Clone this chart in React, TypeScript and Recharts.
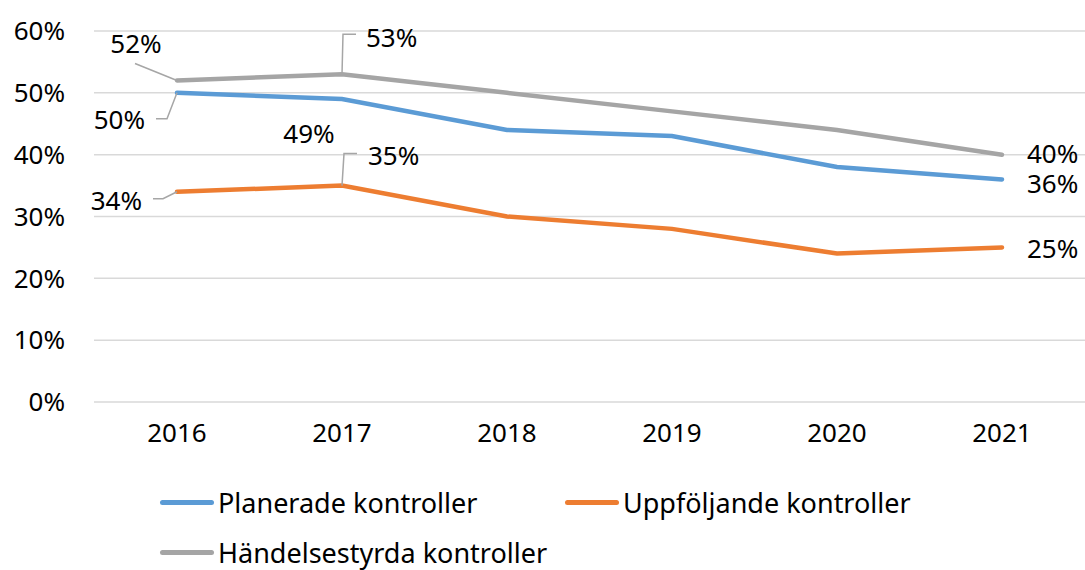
import { LineChart, Line, XAxis, YAxis, CartesianGrid, LabelList } from 'recharts';

const years = ['2016', '2017', '2018', '2019', '2020', '2021'];
const planerade = [50, 49, 44, 43, 38, 36];
const uppfoljande = [34, 35, 30, 28, 24, 25];
const handelsestyrda = [52, 53, 50, 47, 44, 40];
const yTicks = [0, 10, 20, 30, 40, 50, 60];

const data = years.map((year, i) => ({
  year,
  planerade: planerade[i],
  uppfoljande: uppfoljande[i],
  handelsestyrda: handelsestyrda[i],
}));

const series = [
  { key: 'planerade', name: 'Planerade kontroller', color: '#5B9BD5' },
  { key: 'uppfoljande', name: 'Uppföljande kontroller', color: '#ED7D31' },
  { key: 'handelsestyrda', name: 'Händelsestyrda kontroller', color: '#A5A5A5' },
];

const FONT = '"Noto Sans", "Liberation Sans", sans-serif';

// label placement relative to the point, with optional leader line
type LabelPos = { dx: number; dy: number; anchor: 'start' | 'middle' | 'end'; leader?: number[][] };
const labelLayout: Record<string, Record<number, LabelPos>> = {
  handelsestyrda: {
    0: { dx: -41, dy: -37, anchor: 'middle', leader: [[0, 0], [-42, -17]] },
    1: { dx: 24, dy: -37, anchor: 'start', leader: [[0, 0], [1, -40], [14, -40]] },
    5: { dx: 25, dy: -2, anchor: 'start' },
  },
  planerade: {
    0: { dx: -32, dy: 26, anchor: 'end', leader: [[0, 0], [-10, 26], [-21, 26]] },
    1: { dx: -33, dy: 34, anchor: 'middle' },
    5: { dx: 25, dy: 4, anchor: 'start' },
  },
  uppfoljande: {
    0: { dx: -35, dy: 8, anchor: 'end', leader: [[0, 0], [-14, 7], [-24, 7]] },
    1: { dx: 26, dy: -31, anchor: 'start', leader: [[0, 0], [2, -32], [15, -32]] },
    5: { dx: 25, dy: 1, anchor: 'start' },
  },
};

const makeLabel = (key: string) => (props: any) => {
  const pos = labelLayout[key][props.index];
  if (!pos) return null;
  const x = Number(props.x);
  const y = Number(props.y);
  return (
    <g>
      {pos.leader && (
        <polyline
          points={pos.leader.map(([a, b]) => `${x + a},${y + b}`).join(' ')}
          fill="none"
          stroke="#A6A6A6"
          strokeWidth={1.5}
        />
      )}
      <text
        x={x + pos.dx}
        y={y + pos.dy}
        textAnchor={pos.anchor}
        dominantBaseline="central"
        fontSize={26}
        fontFamily={FONT}
        fill="#000"
      >
        {`${props.value}%`}
      </text>
    </g>
  );
};

export default function App() {
  return (
    <div style={{ position: 'absolute', left: 0, top: 0, width: 1085, height: 570, overflow: 'hidden', background: '#fff' }}>
      <LineChart width={1085} height={570} data={data} margin={{ top: 31, right: 0, left: 0, bottom: 118 }}>
        <CartesianGrid vertical={false} stroke="#D9D9D9" strokeWidth={1.5} />
        <XAxis
          dataKey="year"
          height={50}
          axisLine={false}
          tickLine={false}
          tickMargin={16}
          padding={{ left: 83, right: 83 }}
          tick={{ fontSize: 26, fill: '#000', fontFamily: FONT }}
        />
        <YAxis
          width={94}
          domain={[0, 60]}
          ticks={yTicks}
          interval={0}
          axisLine={false}
          tickLine={false}
          tickMargin={23}
          tickFormatter={(v: number) => `${v}%`}
          tick={{ fontSize: 26, fill: '#000', fontFamily: FONT }}
        />
        {series.map((s) => (
          <Line
            key={s.key}
            dataKey={s.key}
            name={s.name}
            stroke={s.color}
            strokeWidth={4.5}
            strokeLinecap="round"
            dot={false}
            activeDot={false}
            isAnimationActive={false}
          >
            <LabelList dataKey={s.key} content={makeLabel(s.key)} />
          </Line>
        ))}
      </LineChart>
      <div style={{ position: 'absolute', left: 160, top: 477, width: 810, display: 'flex', flexWrap: 'wrap', fontFamily: FONT, fontSize: 27 }}>
        {series.map((s) => (
          <div key={s.key} style={{ width: 405, height: 50, display: 'flex', alignItems: 'center' }}>
            <span style={{ display: 'inline-block', width: 54, height: 5, borderRadius: 3, background: s.color, marginRight: 4 }} />
            <span style={{ color: '#000' }}>{s.name}</span>
          </div>
        ))}
      </div>
    </div>
  );
}
